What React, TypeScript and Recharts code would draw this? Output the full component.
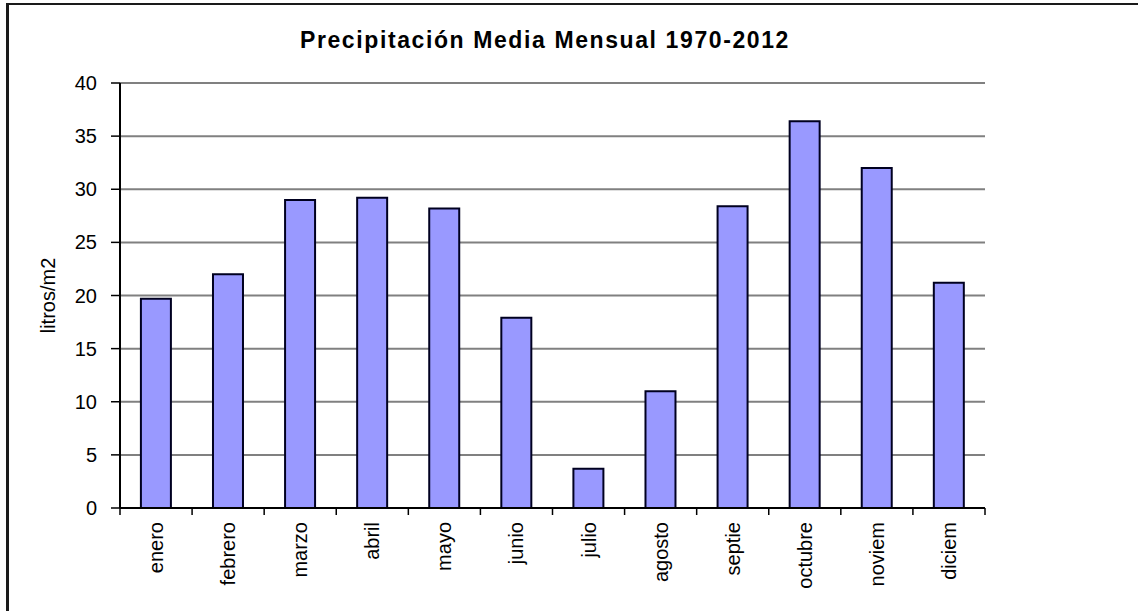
import React from "react";
import { BarChart, Bar, XAxis, YAxis, CartesianGrid, Label } from "recharts";

const months = [
  "enero",
  "febrero",
  "marzo",
  "abril",
  "mayo",
  "junio",
  "julio",
  "agosto",
  "septie",
  "octubre",
  "noviem",
  "diciem",
];
const rainfall = [19.7, 22.0, 29.0, 29.2, 28.2, 17.9, 3.7, 11.0, 28.4, 36.4, 32.0, 21.2];
const yTicks = [0, 5, 10, 15, 20, 25, 30, 35, 40];

const data = months.map((m, i) => ({ month: m, value: rainfall[i] }));

const FONT = "'Liberation Sans', Arial, sans-serif";

// category label, rotated, plus a tick mark on the left boundary of each band
const MonthTick = (props: any) => {
  const { x, y, payload, index } = props;
  const half = payload.offset ?? 0;
  const last = index === months.length - 1;
  return (
    <g>
      <line x1={x - half} y1={y} x2={x - half} y2={y + 7} stroke="#000" strokeWidth={1.5} />
      {last && <line x1={x + half} y1={y} x2={x + half} y2={y + 7} stroke="#000" strokeWidth={1.5} />}
      <text
        x={0}
        y={0}
        transform={`translate(${x + 7},${y + 14}) rotate(-90)`}
        textAnchor="end"
        fontSize={20}
        fontFamily={FONT}
        fill="#000"
      >
        {payload.value}
      </text>
    </g>
  );
};

export default function App() {
  return (
    <div style={{ position: "absolute", left: 0, top: 0, width: 1138, height: 611, background: "#fff" }}>
      <div
        style={{
          position: "absolute",
          left: 6,
          top: 3,
          right: 0,
          bottom: 0,
          borderLeft: "3px solid #1a1a1a",
          borderTop: "2px solid #1a1a1a",
        }}
      />
      <div
        style={{
          position: "absolute",
          left: 0,
          width: 1090,
          top: 27,
          textAlign: "center",
          fontFamily: FONT,
          fontWeight: "bold",
          fontSize: 23,
          letterSpacing: 1.6,
          color: "#000",
        }}
      >
        Precipitación Media Mensual 1970-2012
      </div>
      <div style={{ position: "absolute", left: 0, top: 0 }}>
        <BarChart
          width={1138}
          height={611}
          data={data}
          margin={{ top: 83, right: 153, bottom: 0, left: 0 }}
          barCategoryGap="29%"
        >
          <CartesianGrid vertical={false} stroke="#808080" strokeWidth={2} />
          <XAxis
            dataKey="month"
            height={103}
            axisLine={{ stroke: "#000", strokeWidth: 2 }}
            tickLine={false}
            tickSize={0}
            tickMargin={0}
            tick={<MonthTick />}
            interval={0}
          />
          <YAxis
            width={120}
            domain={[0, 40]}
            ticks={yTicks}
            interval={0}
            axisLine={{ stroke: "#000", strokeWidth: 2 }}
            tickLine={{ stroke: "#000", strokeWidth: 1.5 }}
            tickSize={9}
            tickMargin={14}
            tick={{ fontSize: 20, fontFamily: FONT, fill: "#000" }}
          >
            <Label
              value="litros/m2"
              angle={-90}
              position="center"
              dx={-12}
              fontSize={20}
              fontFamily={FONT}
              fill="#000"
            />
          </YAxis>
          <YAxis
            yAxisId="right"
            orientation="right"
            width={0}
            domain={[0, 40]}
            ticks={yTicks}
            tick={false}
            tickLine={false}
            axisLine={{ stroke: "#808080", strokeWidth: 2 }}
          />
          <Bar
            dataKey="value"
            fill="#9999ff"
            stroke="#000020"
            strokeWidth={2}
            isAnimationActive={false}
          />
        </BarChart>
      </div>
    </div>
  );
}
